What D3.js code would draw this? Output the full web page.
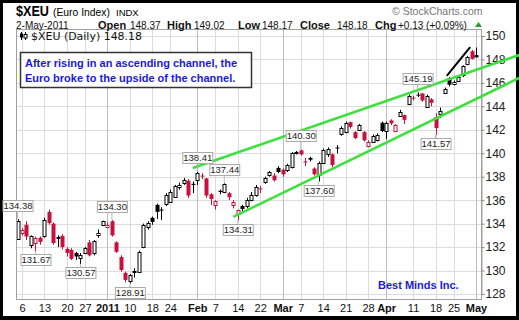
<!DOCTYPE html>
<html><head><meta charset="utf-8">
<script src="https://cdn.jsdelivr.net/npm/d3@7"></script>
<style>html,body{margin:0;padding:0;background:#fff;}svg{display:block}</style>
</head><body><svg id="c" width="519" height="320"></svg>
<script>
// ---------------- DATA ----------------
const dates = [
 "2010-12-03","2010-12-06","2010-12-07","2010-12-08","2010-12-09","2010-12-10","2010-12-13","2010-12-14","2010-12-15","2010-12-16",
 "2010-12-17","2010-12-20","2010-12-21","2010-12-22","2010-12-23","2010-12-27","2010-12-28","2010-12-29","2010-12-30","2010-12-31",
 "2011-01-03","2011-01-04","2011-01-05","2011-01-06","2011-01-07","2011-01-10","2011-01-11","2011-01-12","2011-01-13","2011-01-14",
 "2011-01-18","2011-01-19","2011-01-20","2011-01-21","2011-01-24","2011-01-25","2011-01-26","2011-01-27","2011-01-28","2011-01-31",
 "2011-02-01","2011-02-02","2011-02-03","2011-02-04","2011-02-07","2011-02-08","2011-02-09","2011-02-10","2011-02-11","2011-02-14",
 "2011-02-15","2011-02-16","2011-02-17","2011-02-18","2011-02-22","2011-02-23","2011-02-24","2011-02-25","2011-02-28","2011-03-01",
 "2011-03-02","2011-03-03","2011-03-04","2011-03-07","2011-03-08","2011-03-09","2011-03-10","2011-03-11","2011-03-14","2011-03-15",
 "2011-03-16","2011-03-17","2011-03-18","2011-03-21","2011-03-22","2011-03-23","2011-03-24","2011-03-25","2011-03-28","2011-03-29",
 "2011-03-30","2011-03-31","2011-04-01","2011-04-04","2011-04-05","2011-04-06","2011-04-07","2011-04-08","2011-04-11","2011-04-12",
 "2011-04-13","2011-04-14","2011-04-15","2011-04-18","2011-04-19","2011-04-20","2011-04-21","2011-04-25","2011-04-26","2011-04-27",
 "2011-04-28","2011-04-29","2011-05-02"];
const opens = [
 132.7,133.2,133.9,132.2,132.35,132.8,132.95,135.0,134.0,132.85,
 132.95,131.85,131.75,131.5,131.1,131.5,132.4,131.5,133.0,133.9,
 133.7,134.2,132.4,131.15,129.8,129.05,129.85,129.9,132.0,133.75,
 134.5,135.6,135.2,135.6,135.85,136.3,137.1,137.5,137.65,137.4,
 137.7,138.1,137.85,136.5,135.6,136.8,136.7,136.6,135.6,134.8,
 135.5,135.5,136.0,136.45,137.0,137.6,138.15,138.1,138.75,138.6,
 138.55,138.8,140.0,140.25,139.3,139.6,138.7,138.2,139.2,139.9,
 139.9,140.5,141.65,141.8,142.65,141.8,142.0,141.8,140.7,141.0,
 141.2,142.6,141.9,142.8,141.9,143.2,143.25,144.2,144.75,145.0,
 145.1,144.0,144.6,143.1,143.35,145.2,146.4,145.9,146.2,146.6,
 147.6,148.7,148.37];
const highs = [
 134.38,133.6,134.2,133.0,132.9,132.9,134.5,135.2,134.1,133.0,
 133.1,132.0,131.9,131.6,131.5,132.0,132.6,132.6,133.5,134.25,
 134.1,134.30,132.5,131.3,129.9,129.7,130.2,131.7,134.0,134.2,
 134.6,135.7,135.4,136.6,136.9,137.3,137.5,137.9,137.8,137.6,
 138.41,138.3,137.9,136.6,136.0,136.9,137.44,136.7,136.0,135.2,
 135.6,136.2,136.7,137.3,137.2,138.0,138.5,138.3,138.9,138.7,
 139.1,140.1,140.2,140.30,139.6,139.7,138.8,139.3,140.4,140.5,
 140.0,140.7,142.3,142.7,142.7,141.9,142.5,141.9,141.1,141.6,
 141.7,142.7,142.7,142.9,142.5,143.7,143.3,145.0,144.9,145.19,
 145.15,145.0,144.7,143.4,143.9,145.6,146.5,146.2,146.6,147.5,
 148.3,148.8,149.02];
const lows = [
 132.6,133.0,132.6,131.9,131.67,132.2,132.8,133.9,132.2,132.0,
 131.8,131.2,130.9,130.9,130.57,131.4,131.2,131.3,132.8,133.8,
 133.6,132.9,131.5,129.9,129.0,128.91,129.4,129.8,131.9,133.5,
 133.9,134.4,134.3,135.5,135.8,136.2,136.9,137.3,136.2,136.6,
 137.3,137.8,136.2,135.6,135.2,136.5,136.6,136.0,135.3,134.31,
 135.0,135.3,135.9,136.3,136.6,137.4,138.0,137.6,138.3,138.0,
 138.4,138.7,139.9,139.8,138.9,139.3,138.1,137.60,139.1,139.7,
 138.8,140.0,141.5,141.7,142.1,141.2,141.9,141.0,140.5,140.9,
 141.0,141.8,141.2,142.4,141.8,143.1,142.5,144.1,144.5,144.8,
 144.4,143.9,144.0,141.57,143.0,145.1,145.7,145.8,146.1,146.5,
 147.5,148.0,148.17];
const closes = [
 134.2,133.45,132.9,132.95,132.75,132.45,134.3,134.05,132.35,132.7,
 132.0,131.5,131.0,131.2,131.35,131.9,131.3,132.5,133.2,134.2,
 133.9,133.0,131.6,130.05,129.2,129.6,129.95,131.6,133.9,134.05,
 134.15,135.0,135.15,136.4,136.7,137.2,137.3,137.75,136.4,137.3,
 138.3,138.05,136.4,136.1,135.9,136.7,137.35,136.25,135.85,135.15,
 135.25,136.0,136.45,137.1,136.95,137.9,138.4,137.7,138.4,138.2,
 139.0,140.0,140.1,139.9,139.25,139.45,138.2,139.2,140.3,140.35,
 139.0,140.45,142.15,142.6,142.25,141.3,142.4,141.1,141.0,141.5,
 141.6,141.9,142.6,142.55,142.4,143.5,142.85,144.9,144.7,144.95,
 144.5,144.9,144.3,142.15,143.6,145.5,145.85,146.1,146.5,147.4,
 148.2,148.05,148.18];

const tickDates  = ["2010-12-06","2010-12-13","2010-12-20","2010-12-27","2011-01-03","2011-01-10","2011-01-18","2011-01-24",
                    "2011-02-01","2011-02-07","2011-02-14","2011-02-22","2011-03-01","2011-03-07","2011-03-14","2011-03-21",
                    "2011-03-28","2011-04-01","2011-04-11","2011-04-18","2011-04-25","2011-05-02"];
const tickLabels = ["6","13","20","27","2011","10","18","24","Feb","7","14","22","Mar","7","14","21","28","Apr","11","18","25","May"];
const boldTickLabels = ["2011","Feb","Mar","Apr","May"];
const yTicks = [128,130,132,134,136,138,140,142,144,146,148,150];

const priceLabelDates  = ["2010-12-03","2010-12-09","2010-12-23","2011-01-04","2011-01-10","2011-02-01","2011-02-09","2011-02-14","2011-03-07","2011-03-11","2011-04-12","2011-04-18"];
const priceLabelValues = [134.38,131.67,130.57,134.30,128.91,138.41,137.44,134.31,140.30,137.60,145.19,141.57];
const priceLabelSides  = ["high","low","low","high","low","high","high","low","high","low","high","low"];

// channel lines in (trading-day index, price) space
const upperChannelIdx = [39.0, 111.6], upperChannelVal = [138.75, 148.38];
const lowerChannelIdx = [48.0, 111.6], lowerChannelVal = [134.57, 146.42];
const breakoutIdx = [95.5, 100.7], breakoutVal = [146.6, 149.05];

const header = {symbol:"$XEU", name:"(Euro Index)", exch:"INDX", date:"2-May-2011",
  open:"148.37", high:"149.02", low:"148.17", close:"148.18", chg:"+0.13 (+0.09%)"};
const legendText = "$XEU (Daily) 148.18";
const noteLines = ["After rising in an ascending channel, the", "Euro broke to the upside of the channel."];
const credit = "Best Minds Inc.";

// ---------------- CHART ----------------
const svg = d3.select("#c");
const W = 519, H = 320;
const P = {l:16, r:481, t:29, b:299};
const RED = "#c8103c", GREEN = "#3ee03e", BLUE = "#1a1ad8";

svg.append("rect").attr("width",W).attr("height",H).attr("fill","#000");
svg.append("rect").attr("x",3).attr("y",3).attr("width",W-6).attr("height",H-7).attr("fill","#fff");

const x = d3.scaleLinear().domain([0, dates.length-1]).range([17.5, 476]);
const y = d3.scaleLinear().domain([128,150]).range([294,36]);
const idx = d => dates.indexOf(d);

// plot frame & grid
const g = svg.append("g");
g.append("rect").attr("x",P.l+0.5).attr("y",P.t+0.5).attr("width",P.r-P.l).attr("height",P.b-P.t)
  .attr("fill","#fff").attr("stroke","#a0a0a0");
g.selectAll(".hg").data(yTicks).join("line")
  .attr("x1",P.l+1).attr("x2",P.r).attr("y1",d=>Math.round(y(d))+0.5).attr("y2",d=>Math.round(y(d))+0.5)
  .attr("stroke","#dcdcdc");
g.selectAll(".vg").data(tickDates).join("line")
  .attr("x1",d=>Math.round(x(idx(d)))+0.5).attr("x2",d=>Math.round(x(idx(d)))+0.5)
  .attr("y1",P.t+1).attr("y2",P.b)
  .attr("stroke",(d,i)=>boldTickLabels.includes(tickLabels[i])?"#bdbdbd":"#dcdcdc");

// right axis
const yAxis = d3.axisRight(y).tickValues(yTicks).tickSize(3).tickFormat(d3.format("d"));
const ya = svg.append("g").attr("transform",`translate(${P.r+0.5},0)`).call(yAxis);
ya.select(".domain").attr("stroke","#a0a0a0");
ya.selectAll("line").attr("stroke","#888");
ya.selectAll("text").attr("font-family","Liberation Sans, Arial, sans-serif").attr("font-size","12px").attr("fill","#222").attr("x",4);

// bottom axis labels
const xa = d3.axisBottom(x).tickValues(tickDates.map(idx)).tickSize(0)
  .tickFormat((d,i)=>tickLabels[i]);
const xg = svg.append("g").attr("transform",`translate(0,${P.b})`).call(xa);
xg.select(".domain").remove();
xg.selectAll("text").attr("font-family","Liberation Sans, Arial, sans-serif").attr("font-size","11px")
  .attr("fill","#111").attr("dy","0.95em")
  .attr("font-weight",(d,i)=>boldTickLabels.includes(tickLabels[i])?"bold":"normal");

// candles
svg.append("clipPath").attr("id","pc").append("rect").attr("x",P.l+1).attr("y",P.t+1).attr("width",P.r-P.l-1).attr("height",P.b-P.t-1);
const cg = svg.append("g").attr("clip-path","url(#pc)");
const candles = dates.map((d,i)=>({i,o:opens[i],h:highs[i],l:lows[i],c:closes[i],
  pc: i>0?closes[i-1]:null}));
candles.forEach(k=>{
  const col = (k.pc!==null && k.c < k.pc) ? RED : "#000";
  const hollow = k.c > k.o;
  const cx = Math.round(x(k.i))+0.5;
  const yt = y(Math.max(k.o,k.c)), yb = y(Math.min(k.o,k.c));
  cg.append("line").attr("x1",cx).attr("x2",cx).attr("y1",y(k.h)).attr("y2",y(k.l)).attr("stroke",col).attr("stroke-width",1);
  const bh = Math.max(1, yb-yt);
  if (hollow) {
    cg.append("rect").attr("x",cx-1.5).attr("y",Math.round(yt)+0.5).attr("width",3).attr("height",Math.max(1,Math.round(bh)))
      .attr("fill","#fff").attr("stroke",col).attr("stroke-width",1);
  } else {
    cg.append("rect").attr("x",cx-2).attr("y",yt).attr("width",4).attr("height",bh).attr("fill",col);
  }
});

// channel lines
const line = d3.line().x(d=>x(d[0])).y(d=>y(d[1]));
svg.append("path").attr("d",line(d3.zip(upperChannelIdx,upperChannelVal))).attr("stroke",GREEN).attr("stroke-width",2.6).attr("fill","none");
svg.append("path").attr("d",line(d3.zip(lowerChannelIdx,lowerChannelVal))).attr("stroke",GREEN).attr("stroke-width",2.6).attr("fill","none");
svg.append("path").attr("d",line(d3.zip(breakoutIdx,breakoutVal))).attr("stroke","#000").attr("stroke-width",2).attr("fill","none");

// price labels
const lg = svg.append("g");
priceLabelDates.forEach((d,k)=>{
  const px = x(idx(d)), py = y(priceLabelValues[k]);
  const isHigh = priceLabelSides[k]==="high";
  const cy = isHigh ? py-14 : py+9;
  const bw = 30, bh = 11;
  lg.append("line").attr("x1",px).attr("y1",isHigh?cy+bh/2:cy-bh/2).attr("x2",px).attr("y2",py)
    .attr("stroke","#aaa").attr("stroke-width",0.8);
  lg.append("rect").attr("x",px-bw/2+0.5).attr("y",Math.round(cy-bh/2)+0.5).attr("width",bw).attr("height",bh)
    .attr("fill","#fff").attr("stroke","#aaa");
  lg.append("text").attr("x",px+0.5).attr("y",Math.round(cy-bh/2)+bh/2+0.5).attr("dy","0.36em").attr("text-anchor","middle")
    .attr("font-family","Liberation Sans, Arial, sans-serif").attr("font-size","9.5px").attr("fill","#222")
    .text(priceLabelValues[k].toFixed(2));
});

// header
const F = "Liberation Sans, Arial, sans-serif";
svg.append("text").attr("x",16).attr("y",16).attr("font-family",F).attr("font-weight","bold").attr("font-size","14px")
  .attr("textLength",33).attr("lengthAdjust","spacingAndGlyphs").text(header.symbol);
svg.append("text").attr("x",53).attr("y",16).attr("font-family",F).attr("font-size","11px")
  .attr("textLength",57).attr("lengthAdjust","spacingAndGlyphs").text(header.name);
svg.append("text").attr("x",116).attr("y",16).attr("font-family",F).attr("font-size","9.5px").text(header.exch);
svg.append("text").attr("x",392).attr("y",15).attr("font-family",F).attr("font-size","10.5px").attr("fill","#777").text("© StockCharts.com");

const row = [
  {t:header.date,x:16,b:false},
  {t:"Open",x:98,b:true},{t:header.open,x:130,b:false},
  {t:"High",x:167,b:true},{t:header.high,x:194,b:false},
  {t:"Low",x:238,b:true},{t:header.low,x:262,b:false},
  {t:"Close",x:300,b:true},{t:header.close,x:337,b:false},
  {t:"Chg",x:375,b:true},{t:header.chg,x:398,b:false}];
row.forEach(r=>svg.append("text").attr("x",r.x).attr("y",29).attr("font-family",F).attr("font-size",r.b?"11px":"10px")
  .attr("font-weight",r.b?"bold":"normal").attr("fill","#111").text(r.t));
svg.append("path").attr("d","M475,27 L478.5,22 L482,27 Z").attr("fill","#2a9a2a");

// legend in plot
const ic = svg.append("g").attr("fill","#000").attr("stroke","#000");
ic.append("line").attr("x1",21.5).attr("x2",21.5).attr("y1",32).attr("y2",40);
ic.append("rect").attr("x",20).attr("y",33.5).attr("width",3).attr("height",4).attr("stroke","none");
ic.append("line").attr("x1",25.5).attr("x2",25.5).attr("y1",32).attr("y2",40);
ic.append("rect").attr("x",24).attr("y",34.5).attr("width",3).attr("height",3.5).attr("fill","#fff");
svg.append("text").attr("x",31).attr("y",40).attr("font-family","DejaVu Sans, Verdana, sans-serif").attr("font-size","10px")
  .attr("fill","#111").attr("textLength",111).attr("lengthAdjust","spacingAndGlyphs").text(legendText);

// note box
svg.append("rect").attr("x",20.5).attr("y",52.5).attr("width",231).attr("height",35).attr("fill","#fff")
  .attr("stroke","#333").attr("stroke-width",1.5);
noteLines.forEach((t,i)=>svg.append("text").attr("x",25).attr("y",67+i*15).attr("font-family",F)
  .attr("font-weight","bold").attr("font-size","11px").attr("fill",BLUE).text(t));

svg.append("text").attr("x",378).attr("y",289).attr("font-family",F).attr("font-weight","bold").attr("font-size","11px")
  .attr("fill",BLUE).text(credit);
</script></body></html>
